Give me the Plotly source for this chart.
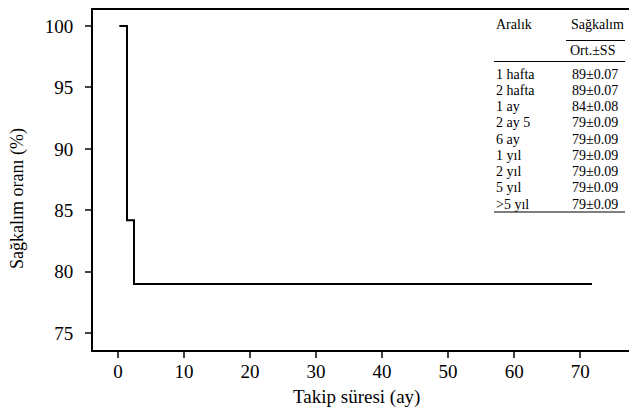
import plotly.graph_objects as go

# Kaplan-Meier style step data
time_months = [0.2, 1.36, 1.36, 2.42, 2.42, 71.8]
survival_pct = [100, 100, 84.2, 84.2, 79, 79]

x_ticks = [0, 10, 20, 30, 40, 50, 60, 70]
y_ticks = [75, 80, 85, 90, 95, 100]

table_intervals = ["1 hafta", "2 hafta", "1 ay", "2 ay 5", "6 ay", "1 yıl", "2 yıl", "5 yıl", ">5 yıl"]
table_values = ["89±0.07", "89±0.07", "84±0.08", "79±0.09", "79±0.09", "79±0.09", "79±0.09", "79±0.09", "79±0.09"]

W, H = 629, 411
L, T, R = 93, 10, 0
B = H - 350
pw, ph = W - L - R, H - T - B

def px(x):
    return (x - L) / pw

def py(y):
    return (H - B - y) / ph

FONT = "Liberation Serif"

fig = go.Figure()
fig.add_trace(go.Scatter(
    x=time_months, y=survival_pct, mode="lines",
    line=dict(color="black", width=2),
    showlegend=False, hoverinfo="skip",
))

fig.update_layout(
    width=W, height=H,
    margin=dict(l=L, r=R, t=T, b=B, pad=0),
    plot_bgcolor="white", paper_bgcolor="white",
    font=dict(family=FONT, color="black", size=19),
    xaxis=dict(
        range=[-3.79, 77.4], tickvals=x_ticks, ticks="outside", ticklen=6, tickwidth=2,
        showline=True, linewidth=2, linecolor="black", mirror=True,
        showgrid=False, zeroline=False, ticklabelstandoff=-3,
        tickfont=dict(size=19),
    ),
    yaxis=dict(
        range=[73.64, 101.3], tickvals=y_ticks, ticks="outside", ticklen=6, tickwidth=2,
        showline=True, linewidth=2, linecolor="black",
        showgrid=False, zeroline=False, ticklabelstandoff=8,
        tickfont=dict(size=19),
    ),
)

ann = []
tf = dict(family=FONT, size=14, color="black")
ann.append(dict(x=px(494), y=py(25), text="Aralık", xanchor="left", yanchor="middle", font=tf))
ann.append(dict(x=px(597), y=py(25), text="Sağkalım", xanchor="center", yanchor="middle", font=tf))
ann.append(dict(x=px(592), y=py(50), text="Ort.±SS", xanchor="center", yanchor="middle", font=tf))
row_y0, row_dy = 74, 16.25
for i, (a, v) in enumerate(zip(table_intervals, table_values)):
    yy = py(row_y0 + i * row_dy)
    ann.append(dict(x=px(494), y=yy, text=a, xanchor="left", yanchor="middle", font=tf))
    ann.append(dict(x=px(570), y=yy, text=v, xanchor="left", yanchor="middle", font=tf))
# axis titles
ann.append(dict(x=px(356), y=py(397), text="Takip süresi (ay)", xanchor="center", yanchor="middle",
                font=dict(family=FONT, size=19, color="black")))
ann.append(dict(x=px(17), y=py(199), text="Sağkalım oranı (%)", xanchor="center", yanchor="middle",
                textangle=-90, font=dict(family=FONT, size=18, color="black")))
for a in ann:
    a.update(xref="paper", yref="paper", showarrow=False)
fig.update_layout(annotations=ann)

shapes = []
for (x0, x1, y) in [(566, 625, 40.5), (494, 625, 61.5), (494, 625, 212)]:
    shapes.append(dict(type="line", xref="paper", yref="paper",
                       x0=px(x0), x1=px(x1), y0=py(y), y1=py(y),
                       line=dict(color="black", width=1)))
fig.update_layout(shapes=shapes)

fig.write_html(
    "out.html",
    config={"displayModeBar": False},
    post_script="document.body.style.margin='0';document.body.style.overflow='hidden';",
)
